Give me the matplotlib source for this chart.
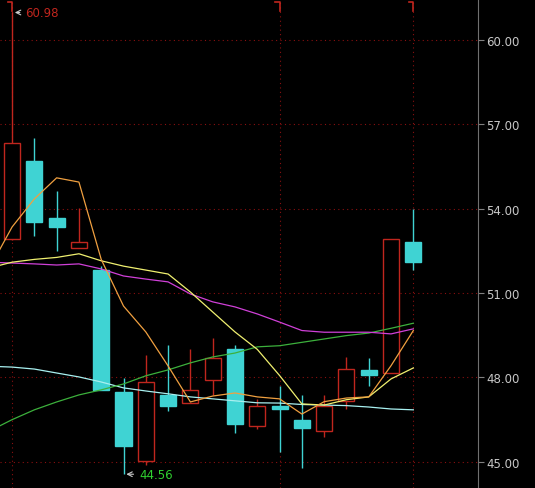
import matplotlib
matplotlib.use("Agg")
import matplotlib.pyplot as plt
import numpy as np

# OHLC per candle
opens = [52.93, 55.70, 53.67, 52.60, 51.82, 47.50, 45.02, 47.38, 47.10, 47.91,
         49.02, 46.29, 46.95, 46.50, 46.09, 47.18, 48.27, 48.15, 52.83]
closes = [56.34, 53.52, 53.34, 52.81, 47.56, 45.56, 47.83, 46.98, 47.56, 48.69,
          46.33, 46.98, 46.89, 46.22, 46.98, 48.29, 48.10, 52.92, 52.12]
highs = [60.98, 56.52, 54.63, 54.03, 51.98, 47.97, 48.80, 49.16, 49.02, 49.40,
         49.16, 47.24, 47.69, 47.36, 47.36, 48.72, 48.70, 52.92, 53.99]
lows = [52.90, 53.03, 52.51, 52.60, 47.56, 44.56, 44.90, 46.82, 47.10, 47.39,
        46.02, 46.17, 45.34, 44.78, 45.88, 46.88, 47.71, 48.15, 51.84]

# moving averages, first value at index -1 (left edge)
ma_orange = [51.9, 53.35, 54.35, 55.10, 54.95, 52.20, 50.54, 49.62, 48.41, 47.13,
             47.34, 47.45, 47.31, 47.24, 46.70, 47.14, 47.27, 47.31, 48.42, 49.67]
ma_yellow = [51.9, 52.10, 52.20, 52.27, 52.40, 52.15, 51.96, 51.82, 51.68, 51.04,
             50.33, 49.62, 49.00, 48.07, 47.06, 47.02, 47.21, 47.31, 47.95, 48.34]
ma_magenta = [52.1, 52.07, 52.04, 52.00, 52.04, 51.86, 51.61, 51.50, 51.40, 50.97,
              50.69, 50.51, 50.26, 49.97, 49.67, 49.61, 49.61, 49.61, 49.55, 49.73]
ma_green = [46.1, 46.50, 46.85, 47.13, 47.38, 47.56, 47.77, 48.06, 48.27, 48.52,
            48.73, 48.87, 49.09, 49.13, 49.25, 49.37, 49.49, 49.58, 49.75, 49.93]
ma_cyan = [48.4, 48.37, 48.30, 48.16, 48.02, 47.84, 47.63, 47.52, 47.42, 47.31,
           47.24, 47.17, 47.10, 47.09, 47.04, 47.02, 47.00, 46.95, 46.88, 46.85]

yticks = [45, 48, 51, 54, 57, 60]

RED = "#c0261e"
CYAN = "#3fd3d3"
GRID = "#8a1010"

fig = plt.figure(figsize=(5.35, 4.89), dpi=100, facecolor="black")
ax = fig.add_axes([0, 0, 478 / 535, 1], facecolor="black")

x = np.arange(len(opens))
for i in x:
    o, c, h, l = opens[i], closes[i], highs[i], lows[i]
    if c >= o:
        ax.vlines(i, l, h, color=RED, lw=1, zorder=2)
        ax.add_patch(plt.Rectangle((i - 0.36, o), 0.72, max(c - o, 0.03),
                                   facecolor="black", edgecolor=RED, lw=1, zorder=3))
    else:
        ax.vlines(i, l, h, color=CYAN, lw=1, zorder=2)
        ax.add_patch(plt.Rectangle((i - 0.36, c), 0.72, max(o - c, 0.08),
                                   facecolor=CYAN, edgecolor=CYAN, lw=1, zorder=3))

xm = np.arange(-1, len(opens))
ax.plot(xm, ma_cyan, color="#a8f0f0", lw=0.9, zorder=4)
ax.plot(xm, ma_green, color="#3cb03c", lw=0.9, zorder=4)
ax.plot(xm, ma_magenta, color="#d040d8", lw=0.9, zorder=4)
ax.plot(xm, ma_yellow, color="#f0f070", lw=0.9, zorder=4)
ax.plot(xm, ma_orange, color="#f0a040", lw=0.9, zorder=4)

for y in yticks:
    ax.axhline(y, color=GRID, ls=(0, (1, 3)), lw=0.8, zorder=1)
for i in [0, 12, 18]:
    ax.axvline(i, color=GRID, ls=(0, (1, 3)), lw=0.8, zorder=1)
    ax.plot([i - 0.2, i, i], [61.35, 61.35, 61.05], color=RED, lw=1.2)

# max / min labels
ax.annotate("60.98", xy=(0, 60.98), xytext=(0.6, 60.98), color=RED, fontsize=8.5,
            va="center", arrowprops=dict(arrowstyle="->", color="#cccccc", lw=0.8))
ax.annotate("44.56", xy=(5, 44.56), xytext=(5.7, 44.56), color="#30d030", fontsize=8.5,
            va="center", arrowprops=dict(arrowstyle="->", color="#cccccc", lw=0.8))

ax.set_xlim(-0.54, 20.9)
ax.set_ylim(44.07, 61.46)
ax.set_xticks([])
ax.yaxis.tick_right()
ax.set_yticks(yticks)
ax.set_yticklabels([f"{v:.2f}" for v in yticks], color="#c8c8c8", fontsize=8.5)
ax.tick_params(axis="y", colors="#808080", length=4, pad=2, labelcolor="#c8c8c8")
for side in ["top", "left", "bottom"]:
    ax.spines[side].set_visible(False)
ax.spines["right"].set_color("#707070")

fig.savefig("out.png", dpi=100, facecolor="black")
